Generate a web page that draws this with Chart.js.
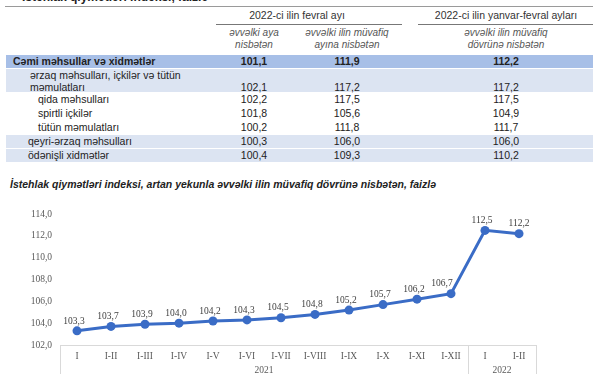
<!DOCTYPE html>
<html>
<head>
<meta charset="utf-8">
<script src="https://cdn.jsdelivr.net/npm/chart.js@4.4.1/dist/chart.umd.min.js"></script>
<style>
  html,body{margin:0;padding:0;background:#fff;}
  body{width:600px;height:380px;position:relative;overflow:hidden;font-family:"Liberation Sans",Arial,sans-serif;color:#222;}
  .abs{position:absolute;white-space:nowrap;}
  .c{transform:translateX(-50%);text-align:center;}
  .hdr{font-size:10.5px;color:#333;}
  .sub{font-size:10px;font-style:italic;color:#555;line-height:12px;}
  .band{position:absolute;left:6px;width:587px;}
  .cell{font-size:10.5px;line-height:13px;}
  #wrap{position:absolute;left:0;top:195px;width:600px;height:185px;}
</style>
</head>
<body>
<div class="abs" style="left:22px;top:-10px;font-size:12px;font-weight:bold;color:#222;">İstehlak qiymətləri indeksi, faizlə</div>
<div class="abs" style="left:5px;top:6px;width:588px;height:1px;background:#9a9a9a;"></div>
<div id="table"></div>
<div class="abs" style="left:10px;top:178px;font-size:10.5px;font-weight:bold;font-style:italic;color:#222;">İstehlak qiymətləri indeksi, artan yekunla əvvəlki ilin müvafiq dövrünə nisbətən, faizlə</div>
<div id="wrap"><canvas id="c"></canvas></div>
<script>
// ---- Table data ----
const groupHeaders = ['2022-ci ilin fevral ayı', '2022-ci ilin yanvar-fevral ayları'];
const subHeaders = [['əvvəlki aya','nisbətən'], ['əvvəlki ilin müvafiq','ayına nisbətən'], ['əvvəlki ilin müvafiq','dövrünə nisbətən']];
const rowLabels = ['Cəmi məhsullar və xidmətlər', 'ərzaq məhsulları, içkilər və tütün|məmulatları', 'qida məhsulları', 'spirtli içkilər', 'tütün məmulatları', 'qeyri-ərzaq məhsulları', 'ödənişli xidmətlər'];
const monthOnMonth = [101.1, 102.1, 102.2, 101.8, 100.2, 100.3, 100.4];
const yearOnYear = [111.9, 117.2, 117.5, 105.6, 111.8, 106.0, 109.3];
const cumulative = [112.2, 117.2, 117.5, 104.9, 111.7, 106.0, 110.2];

// ---- Chart data ----
const categories = ['I','I-II','I-III','I-IV','I-V','I-VI','I-VII','I-VIII','I-IX','I-X','I-XI','I-XII','I','I-II'];
const cpiCumulative = [103.3, 103.7, 103.9, 104.0, 104.2, 104.3, 104.5, 104.8, 105.2, 105.7, 106.2, 106.7, 112.5, 112.2];
const years = ['2021', '2022'];
const yearSpans = [12, 2];
const yTicks = [102, 104, 106, 108, 110, 112, 114];

const fmt = v => v.toFixed(1).replace('.', ',');

// ---- Build table ----
(function(){
  const t = document.getElementById('table');
  let h = '';
  h += `<div class="abs c hdr" style="left:297px;top:9px;">${groupHeaders[0]}</div>`;
  h += `<div class="abs" style="left:216px;top:24px;width:186px;height:1px;background:#777;"></div>`;
  h += `<div class="abs c hdr" style="left:506px;top:9px;">${groupHeaders[1]}</div>`;
  h += `<div class="abs" style="left:418px;top:24px;width:175px;height:1px;background:#777;"></div>`;
  const colX = [254, 347, 506];
  subHeaders.forEach((s,i)=>{
    h += `<div class="abs c sub" style="left:${colX[i]}px;top:27px;">${s[0]}<br>${s[1]}</div>`;
  });
  const rowTop = [55, 69, 93, 107, 121, 135, 149];
  const rowH = [13, 23, 14, 14, 14, 13, 13];
  const rowBg = ['#a7bfe7', '#dce4f2', null, null, null, '#dce4f2', '#dce4f2'];
  const rowIndent = [13, 30, 38, 38, 38, 28, 28];
  rowLabels.forEach((lab,i)=>{
    if(rowBg[i]) h += `<div class="band" style="top:${rowTop[i]}px;height:${rowH[i]}px;background:${rowBg[i]};"></div>`;
    const bold = i===0 ? 'font-weight:bold;' : '';
    const lines = lab.split('|');
    const ty = rowTop[i] + (lines.length>1 ? 1 : 0);
    h += `<div class="abs cell" style="left:${rowIndent[i]}px;top:${ty}px;${bold}${lines.length>1?'line-height:11.5px;':''}">${lines.join('<br>')}</div>`;
    const vy = lines.length>1 ? rowTop[i]+12 : rowTop[i];
    [monthOnMonth[i], yearOnYear[i], cumulative[i]].forEach((v,j)=>{
      h += `<div class="abs c cell" style="left:${colX[j]}px;top:${vy}px;${bold}">${fmt(v)}</div>`;
    });
  });
  t.innerHTML = h;
})();

// ---- Plugins ----
const dataLabels = {
  id: 'dataLabels',
  afterDatasetsDraw(chart){
    const ctx = chart.ctx;
    const meta = chart.getDatasetMeta(0);
    const d = chart.data.datasets[0].data;
    ctx.save();
    ctx.font = '9.5px "Liberation Serif", "Times New Roman", serif';
    ctx.fillStyle = '#404040';
    ctx.textAlign = 'center';
    ctx.textBaseline = 'bottom';
    meta.data.forEach((pt,i)=>{
      let dx = -3;
      const next = meta.data[i+1];
      if (next && (pt.y - next.y) > 30) dx = -9;   // steep rise after: keep label clear of the line
      if (!next) dx = 0;
      ctx.fillText(fmt(d[i]), pt.x + dx, pt.y - 5);
    });
    ctx.restore();
  }
};
const yearGroups = {
  id: 'yearGroups',
  afterDraw(chart){
    const xs = chart.scales.x;
    const ctx = chart.ctx;
    const n = chart.data.labels.length;
    const bound = b => b<=0 ? xs.left : (b>=n ? xs.right : (xs.getPixelForTick(b-1)+xs.getPixelForTick(b))/2);
    ctx.save();
    ctx.strokeStyle = '#d9d9d9';
    ctx.lineWidth = 1;
    ctx.font = '9.5px "Liberation Serif", "Times New Roman", serif';
    ctx.fillStyle = '#595959';
    ctx.textAlign = 'center';
    ctx.textBaseline = 'middle';
    let start = 0;
    const ys = xs.top;
    const lines = [0];
    yearSpans.forEach((s,k)=>{
      const a = bound(start), b = bound(start+s);
      ctx.fillText(years[k], (a+b)/2, ys + 25);
      start += s;
      lines.push(start);
    });
    lines.forEach(b=>{
      const x = Math.round(bound(b)) + 0.5;
      ctx.beginPath(); ctx.moveTo(x, ys); ctx.lineTo(x, ys + 29); ctx.stroke();
    });
    ctx.restore();
  }
};

new Chart(document.getElementById('c'), {
  type: 'line',
  data: {
    labels: categories,
    datasets: [{
      data: cpiCumulative,
      borderColor: '#3a6cc6',
      backgroundColor: '#3a6cc6',
      borderWidth: 3,
      pointRadius: 4.5,
      pointHoverRadius: 4.5,
      pointBackgroundColor: '#3a6cc6',
      pointBorderWidth: 0,
      tension: 0
    }]
  },
  options: {
    responsive: true,
    maintainAspectRatio: false,
    animation: false,
    events: [],
    layout: { padding: { left: 0, right: 64, top: 19, bottom: 0 } },
    plugins: { legend: { display: false }, tooltip: { enabled: false } },
    scales: {
      x: {
        offset: true,
        grid: { display: false, drawTicks: false },
        border: { display: true, color: '#d9d9d9', width: 1 },
        ticks: { font: { family: '"Liberation Serif", "Times New Roman", serif', size: 9.5 }, color: '#595959', padding: 6, maxRotation: 0, autoSkip: false },
        afterFit(s){ s.height = 35; }
      },
      y: {
        min: yTicks[0],
        max: yTicks[yTicks.length-1],
        grid: { display: false, drawTicks: false },
        border: { display: false },
        afterBuildTicks(s){ s.ticks = yTicks.map(v=>({value:v})); },
        ticks: { font: { family: '"Liberation Serif", "Times New Roman", serif', size: 9.5 }, color: '#595959', padding: 8, callback: v => fmt(v) },
        afterFit(s){ s.width = 60; }
      }
    }
  },
  plugins: [dataLabels, yearGroups]
});
</script>
</body>
</html>
